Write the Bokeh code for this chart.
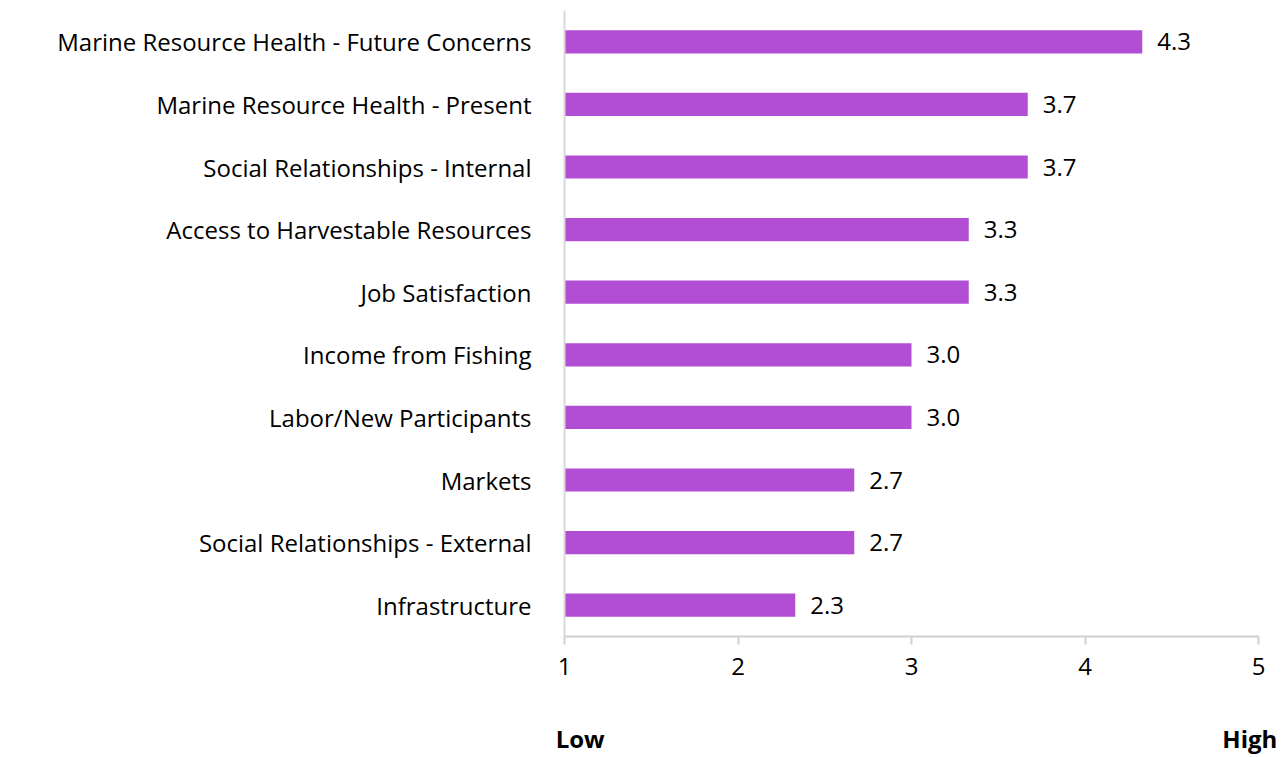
from bokeh.plotting import figure
from bokeh.models import ColumnDataSource, LinearAxis, FixedTicker, Range1d
from bokeh.core.properties import value
from bokeh.embed import file_html
from bokeh.resources import INLINE

categories = [
    "Marine Resource Health - Future Concerns",
    "Marine Resource Health - Present",
    "Social Relationships - Internal",
    "Access to Harvestable Resources",
    "Job Satisfaction",
    "Income from Fishing",
    "Labor/New Participants",
    "Markets",
    "Social Relationships - External",
    "Infrastructure",
]
scores = [4.33, 3.67, 3.67, 3.33, 3.33, 3.0, 3.0, 2.67, 2.67, 2.33]
score_labels = ["4.3", "3.7", "3.7", "3.3", "3.3", "3.0", "3.0", "2.7", "2.7", "2.3"]
x_ticks = [1, 2, 3, 4, 5]
scale_ends = {1.09: "Low", 4.95: "High"}

FONT = "Open Sans"
BAR = "#B14ED3"

factors = list(reversed(categories))
src = ColumnDataSource(dict(cat=categories, score=scores, lab=score_labels,
                            base=[1.0] * len(scores)))

p = figure(width=1286, height=757, y_range=factors, x_range=Range1d(1, 5),
           output_backend="svg", toolbar_location=None,
           min_border_left=564, min_border_right=28, min_border_top=10,
           min_border_bottom=120)
p.y_range.range_padding = 0

p.hbar(y="cat", left="base", right="score", height=0.37, source=src,
       fill_color=BAR, line_color=None)
p.text(x="score", y="cat", text="lab", source=src, x_offset=15,
       text_baseline="middle", text_align="left",
       text_font=value(FONT), text_font_size="24px", text_color="#000000")

p.xgrid.visible = False
p.ygrid.visible = False
p.outline_line_color = None

xa = p.xaxis[0]
xa.ticker = FixedTicker(ticks=x_ticks)
xa.axis_line_color = "#d0d0d0"
xa.axis_line_width = 2
xa.major_tick_line_color = "#d0d0d0"
xa.major_tick_line_width = 2
xa.major_tick_out = 8
xa.major_tick_in = 0
xa.minor_tick_line_color = None
xa.major_label_text_font = FONT
xa.major_label_text_font_size = "24px"
xa.major_label_text_color = "#000000"
xa.major_label_standoff = 13

ya = p.yaxis[0]
ya.axis_line_color = "#d9d9d9"
ya.axis_line_width = 2
ya.major_tick_line_color = None
ya.minor_tick_line_color = None
ya.major_label_text_font = FONT
ya.major_label_text_font_size = "24px"
ya.major_label_text_color = "#000000"
ya.major_label_standoff = 27

ends = LinearAxis(ticker=FixedTicker(ticks=list(scale_ends.keys())),
                  major_label_overrides=scale_ends)
ends.axis_line_color = None
ends.major_tick_line_color = None
ends.minor_tick_line_color = None
ends.major_label_text_font = FONT
ends.major_label_text_font_style = "bold"
ends.major_label_text_font_size = "24px"
ends.major_label_text_color = "#000000"
ends.major_label_standoff = 38
p.add_layout(ends, "below")

open("out.html", "w").write(file_html(p, INLINE))
